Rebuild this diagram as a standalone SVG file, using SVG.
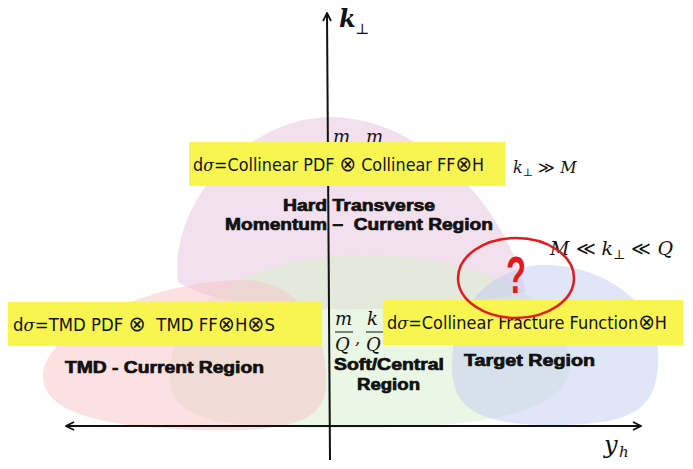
<svg xmlns="http://www.w3.org/2000/svg" width="693" height="469" viewBox="0 0 693 469">
<style>
.blob{stroke:none}
.box{fill:#f8f550}
.eq{font-family:"DejaVu Sans","Liberation Sans",sans-serif;font-size:17px;fill:#111}
.ot{font-size:21px}
.lbl{font-family:"Liberation Sans",Arial,sans-serif;font-weight:bold;font-size:16px;fill:#111;stroke:#111;stroke-width:0.7}
.math{font-family:"DejaVu Serif","Liberation Serif",serif;font-style:italic;fill:#111}
.axis{stroke:#111;stroke-width:2;fill:none}
</style>
<defs>
<marker id="arr" viewBox="0 0 10 10" refX="9" refY="5" markerWidth="10" markerHeight="10" markerUnits="userSpaceOnUse" orient="auto-start-reverse">
<path d="M1,1 L9,5 L1,9" fill="none" stroke="#111" stroke-width="1.8"/>
</marker>
</defs>
<rect width="693" height="469" fill="#fff"/>
<g id="blobs">
<path id="hard-blob" class="blob" fill="#e8c2dd" fill-opacity="0.5" d="M178,282 C168,200 250,117 330,117 C410,117 500,190 526,292 C440,312 240,322 178,282 Z"/>
<path id="soft-blob" class="blob" fill="#d6efcc" fill-opacity="0.5" d="M170,380 C165,300 260,255 360,255 C470,255 560,290 570,360 C575,420 460,428 340,428 C220,428 172,420 170,380 Z"/>
<path id="tmd-blob" class="blob" fill="#f7c3c5" fill-opacity="0.5" d="M43,375 C45,330 150,282 240,280 C300,279 328,330 326,385 C325,425 280,432 200,430 C110,428 42,415 43,375 Z"/>
<path id="target-blob" class="blob" fill="#c1cbf1" fill-opacity="0.5" d="M452,370 C450,300 500,265 545,265 C600,265 655,300 658,350 C660,405 640,424 560,425 C480,426 454,410 452,370 Z"/>
</g>
<g id="connectors">
<line class="axis" x1="330" y1="460" x2="327" y2="13" marker-end="url(#arr)"/>
<line class="axis" x1="66" y1="426" x2="641" y2="426" marker-start="url(#arr)" marker-end="url(#arr)"/>
</g>
<g id="axis-labels">
<text class="math" x="339" y="27" font-size="24" font-weight="bold">k</text>
<text class="math" x="355" y="34" font-size="15" font-style="normal">⊥</text>
<text class="math" x="604" y="453" font-size="24">y</text>
<text class="math" x="619" y="457" font-size="15">h</text>
</g>
<g id="scales">
<text class="math" x="513" y="173" font-size="16">k<tspan font-size="11" font-style="normal" dy="3">⊥</tspan><tspan dy="-3" font-style="normal"> ≫ </tspan>M</text>
<text class="math" x="550" y="255" font-size="19">M<tspan font-style="normal"> ≪ </tspan>k<tspan font-size="13" font-style="normal" dy="4">⊥</tspan><tspan dy="-4" font-style="normal"> ≪ </tspan>Q</text>
<text class="math" x="333" y="143" font-size="18">m</text>
<text class="math" x="366" y="143" font-size="18">m</text>
<g id="soft-fracs">
<text class="math" x="335" y="325" font-size="18">m</text>
<line x1="335" y1="332" x2="353" y2="332" stroke="#111" stroke-width="1"/>
<text class="math" x="335" y="351" font-size="18">Q</text>
<text class="math" x="355" y="344" font-size="16" font-style="normal">,</text>
<text class="math" x="367" y="325" font-size="18">k</text>
<line x1="366" y1="332" x2="384" y2="332" stroke="#111" stroke-width="1"/>
<text class="math" x="366" y="351" font-size="18">Q</text>
</g>
</g>
<g id="hard-region">
<rect class="box" x="189" y="142" width="316" height="44"/>
<text class="eq" x="193" y="171" textLength="291" lengthAdjust="spacingAndGlyphs">d<tspan font-family="DejaVu Serif" font-style="italic">σ</tspan>=Collinear PDF <tspan class="ot">⊗</tspan> Collinear FF<tspan class="ot">⊗</tspan>H</text>
<text class="lbl" x="283" y="211" textLength="152" lengthAdjust="spacingAndGlyphs">Hard Transverse</text>
<text class="lbl" x="225" y="230" textLength="268" lengthAdjust="spacingAndGlyphs" xml:space="preserve">Momentum –  Current Region</text>
</g>
<g id="tmd-region">
<rect class="box" x="8" y="302" width="314" height="44"/>
<text class="eq" x="13" y="331" textLength="262" lengthAdjust="spacingAndGlyphs" xml:space="preserve">d<tspan font-family="DejaVu Serif" font-style="italic">σ</tspan>=TMD PDF <tspan class="ot">⊗</tspan>  TMD FF<tspan class="ot">⊗</tspan>H<tspan class="ot">⊗</tspan>S</text>
<text class="lbl" x="65" y="373" textLength="199" lengthAdjust="spacingAndGlyphs">TMD - Current Region</text>
</g>
<g id="soft-region">
<text class="lbl" x="334" y="370" textLength="110" lengthAdjust="spacingAndGlyphs">Soft/Central</text>
<text class="lbl" x="357" y="390" textLength="63" lengthAdjust="spacingAndGlyphs">Region</text>
</g>
<g id="target-region">
<rect class="box" x="383" y="300" width="300" height="45"/>
<text class="eq" x="387" y="329" textLength="280" lengthAdjust="spacingAndGlyphs">d<tspan font-family="DejaVu Serif" font-style="italic">σ</tspan>=Collinear Fracture Function<tspan class="ot">⊗</tspan>H</text>
<text class="lbl" x="464" y="366" textLength="131" lengthAdjust="spacingAndGlyphs">Target Region</text>
</g>
<g id="question">
<ellipse cx="516" cy="278" rx="58" ry="40" fill="none" stroke="#e3191c" stroke-width="2.5"/>
<text x="506" y="293" font-family="Liberation Sans,Arial,sans-serif" font-weight="bold" font-size="52" fill="#e3191c" textLength="20" lengthAdjust="spacingAndGlyphs">?</text>
</g>
</svg>
